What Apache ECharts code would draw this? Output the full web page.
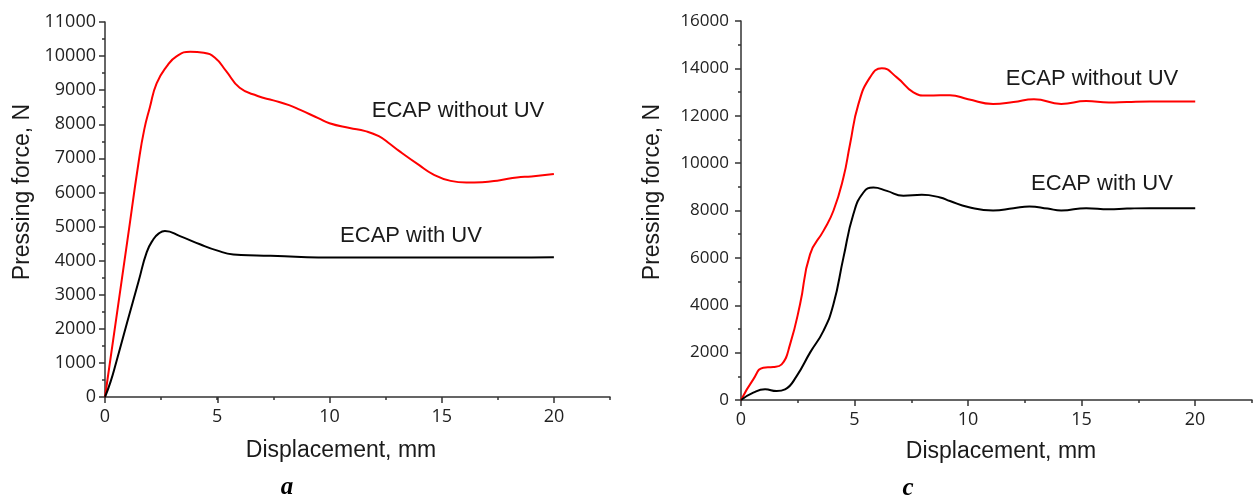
<!DOCTYPE html>
<html>
<head>
<meta charset="utf-8">
<script src="https://cdn.jsdelivr.net/npm/echarts@6/dist/echarts.min.js"></script>
<style>
html,body{margin:0;padding:0;background:#fff;}
#chart{width:1255px;height:499px;}
</style>
</head>
<body>
<div id="chart"></div>
<script>
// ---- Data (displacement in mm, force in N) ----
const xTicksMajor = [0, 5, 10, 15, 20];
const aWithoutUV_x = [0, 0.5, 1, 1.5, 1.75, 2, 2.3, 2.75, 3.2, 3.8, 4.4, 4.9, 5.4, 6, 6.8, 7.5, 8.2, 8.7, 9.5, 10, 10.9, 11.6, 12.2, 12.7, 13.1, 14, 14.6, 15.4, 16.1, 16.8, 17.6, 18.35, 19, 20];
const aWithoutUV_y = [0, 2300, 4600, 6900, 7850, 8500, 9200, 9700, 10000, 10130, 10100, 9950, 9560, 9070, 8830, 8700, 8560, 8420, 8180, 8030, 7890, 7800, 7650, 7420, 7220, 6800, 6540, 6340, 6290, 6300, 6360, 6440, 6470, 6540];
const aWithUV_x = [0, 0.25, 0.5, 1, 1.5, 1.86, 2.15, 2.4, 2.67, 3.34, 4.23, 4.98, 5.72, 6.76, 8, 9, 10, 12, 15, 18, 20];
const aWithUV_y = [0, 450, 1020, 2220, 3400, 4250, 4620, 4800, 4870, 4720, 4480, 4300, 4180, 4150, 4130, 4100, 4090, 4090, 4090, 4090, 4100];
const cWithoutUV_x = [0, 0.54, 0.98, 1.42, 1.79, 2.16, 2.6, 3.04, 3.63, 4.07, 4.51, 4.8, 5.17, 5.68, 6.2, 6.86, 7.59, 8.18, 8.77, 9.2, 10, 11.1, 12, 12.9, 14.1, 15.2, 16.2, 17, 18, 20];
const cWithoutUV_y = [0, 873, 1366, 1394, 1507, 2350, 4040, 6150, 7140, 7990, 9390, 10800, 12490, 13620, 14010, 13620, 12990, 12850, 12870, 12870, 12700, 12500, 12580, 12700, 12500, 12620, 12560, 12580, 12600, 12600];
const cWithUV_x = [0, 0.54, 1.06, 1.57, 1.94, 2.45, 3.04, 3.63, 4.07, 4.51, 4.95, 5.39, 5.83, 6.42, 7.15, 7.96, 8.77, 9.2, 10, 11.1, 12, 12.7, 13.5, 14.1, 15.2, 16.2, 17, 18, 20];
const cWithUV_y = [0, 310, 450, 380, 450, 1010, 2000, 2920, 4040, 6010, 7850, 8760, 8970, 8830, 8620, 8660, 8550, 8400, 8150, 8000, 8100, 8170, 8080, 8000, 8100, 8050, 8080, 8100, 8100];

const seriesLabels = ['ECAP without UV', 'ECAP with UV'];
const xTitle = 'Displacement, mm';
const yTitle = 'Pressing force, N';
const panelLabels = ['a', 'c'];

function pairs(xs, ys) { return xs.map((x, i) => [x, ys[i]]); }

const AX = '#333';
const TXT = '#1a1a1a';
function tickFont(size) { return { fontFamily: 'Open Sans', fontSize: size, color: '#222', formatter: v => String(v) }; }

function minorX(grid) {
  return {
    type: 'value', gridIndex: grid, min: 0, max: 22.5, interval: 2.5,
    axisLine: { show: true, onZero: false, lineStyle: { color: AX, width: 1.5 } },
    axisTick: { show: true, inside: false, length: 3, lineStyle: { color: AX, width: 1.5 } },
    axisLabel: { show: false }, splitLine: { show: false }
  };
}
function majorX(grid, size) {
  return {
    type: 'value', gridIndex: grid, min: 0, max: 20, interval: 5,
    axisLine: { show: false },
    axisTick: { show: true, inside: false, length: 6, lineStyle: { color: AX, width: 1.5 } },
    axisLabel: Object.assign({ show: true, margin: 11 }, tickFont(size)),
    splitLine: { show: false }
  };
}
function mainY(grid, max, interval, margin, size) {
  return {
    type: 'value', gridIndex: grid, min: 0, max: max, interval: interval,
    axisLine: { show: true, onZero: false, lineStyle: { color: AX, width: 1.5 } },
    axisTick: { show: true, inside: false, length: 6, lineStyle: { color: AX, width: 1.5 } },
    minorTick: { show: true, splitNumber: 2, length: 3, lineStyle: { color: AX, width: 1.5 } },
    axisLabel: Object.assign({ margin: margin }, tickFont(size)),
    splitLine: { show: false }, minorSplitLine: { show: false }
  };
}
function hiddenY(grid, max) {
  return { type: 'value', gridIndex: grid, min: 0, max: max, show: false };
}
function line(data, color, xi, yi) {
  return {
    type: 'line', data: data, xAxisIndex: xi, yAxisIndex: yi,
    showSymbol: false, smooth: 0.5, silent: true,
    lineStyle: { color: color, width: 2 }
  };
}

const titleFont = { fontFamily: 'Liberation Sans', fontSize: 23, fill: TXT };
const annFont = { fontFamily: 'Liberation Sans', fontSize: 22, fill: TXT };
function txt(x, y, text, style, rot) {
  return {
    type: 'text', x: x, y: y, rotation: rot || 0, silent: true,
    style: Object.assign({ text: text, align: 'center', verticalAlign: 'middle' }, style)
  };
}

const option = {
  backgroundColor: '#fff',
  animation: false,
  grid: [
    { left: 105, top: 22, width: 505, height: 375 },
    { left: 105, top: 22, width: 449, height: 375 },
    { left: 741, top: 21, width: 511, height: 379 },
    { left: 741, top: 21, width: 454, height: 379 }
  ],
  xAxis: [minorX(0), majorX(1, 18), minorX(2), majorX(3, 18)],
  yAxis: [mainY(0, 11000, 1000, 9, 18), hiddenY(1, 11000), mainY(2, 16000, 2000, 12, 17), hiddenY(3, 16000)],
  series: [
    line(pairs(aWithoutUV_x, aWithoutUV_y), '#ff0000', 0, 0),
    line(pairs(aWithUV_x, aWithUV_y), '#000000', 0, 0),
    line(pairs(cWithoutUV_x, cWithoutUV_y), '#ff0000', 2, 2),
    line(pairs(cWithUV_x, cWithUV_y), '#000000', 2, 2)
  ],
  graphic: [
    txt(458, 111, seriesLabels[0], annFont),
    txt(411, 236, seriesLabels[1], annFont),
    txt(1092, 79, seriesLabels[0], annFont),
    txt(1102, 184, seriesLabels[1], annFont),
    txt(341, 451, xTitle, titleFont),
    txt(1001, 452, xTitle, titleFont),
    txt(23, 192, yTitle, titleFont, Math.PI / 2),
    txt(653, 192, yTitle, titleFont, Math.PI / 2),
    txt(287, 488, panelLabels[0], { fontFamily: 'Liberation Serif', fontSize: 25, fontStyle: 'italic', fontWeight: 'bold', fill: '#000' }),
    txt(908, 489, panelLabels[1], { fontFamily: 'Liberation Serif', fontSize: 25, fontStyle: 'italic', fontWeight: 'bold', fill: '#000' })
  ]
};

const chart = echarts.init(document.getElementById('chart'), null, { renderer: 'canvas' });
chart.setOption(option);
</script>
</body>
</html>
